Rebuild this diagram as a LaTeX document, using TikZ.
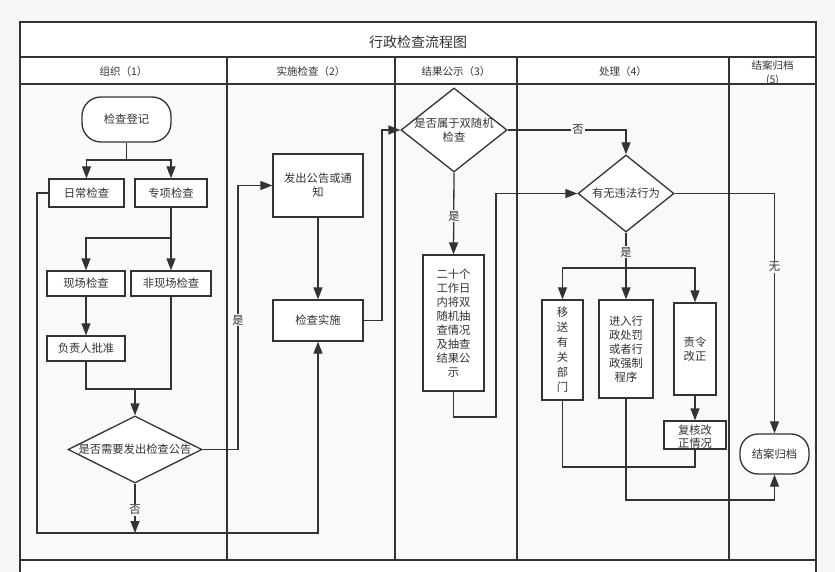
\documentclass[tikz,border=0pt]{standalone}
\usepackage{fontspec}
\setmainfont{Noto Sans CJK SC}
\usetikzlibrary{arrows.meta,shapes.geometric}
\definecolor{ink}{HTML}{333333}
\definecolor{pagebg}{HTML}{F7F7F7}
\definecolor{lanebg}{HTML}{F9F9F9}
\newcommand\ndfont{\fontsize{11.3}{14}\selectfont}
\newcommand\hdfont{\fontsize{10.5}{14}\selectfont}
\begin{document}
\begin{tikzpicture}[x=1pt,y=-1pt,
  box/.style={draw=ink, fill=white, line width=1.3pt, inner sep=0pt, align=center, font=\ndfont, text=ink},
  term/.style={box, rounded corners=19pt},
  dec/.style={draw=ink, fill=white, line width=1.3pt, diamond, inner sep=0pt},
  dectext/.style={align=center, font=\ndfont, text=ink, inner sep=0pt},
  arr/.style={draw=ink, line width=1.3pt, -{Triangle[length=12pt,width=9pt]}},
  link/.style={draw=ink, line width=1.3pt},
  lbl/.style={fill=lanebg, inner sep=1pt, text=ink, font=\ndfont},
  head/.style={text=ink, font=\hdfont, align=center, inner sep=0pt}
]
\useasboundingbox (0,0) rectangle (835,572);
% background and frame
\fill[pagebg] (0,0) rectangle (835,572);
\fill[white] (20,22) rectangle (816,84);
\fill[lanebg] (20,84) rectangle (816,560);
\fill[white] (20,560) rectangle (816,572);
\draw[link] (20,572) -- (20,22) -- (816,22) -- (816,572);
\draw[link] (20,57) -- (816,57);
\draw[link] (20,84) -- (816,84);
\draw[link] (20,560) -- (816,560);
\foreach \lx in {227,395,517,729} {\draw[link] (\lx,57) -- (\lx,560);}
% title and headers
\node[text=ink, font=\fontsize{14}{16}\selectfont] (title) at (418,42) {行政检查流程图};
\node[head] (h1) at (123.5,72) {组织（1）};
\node[head] (h2) at (311,72) {实施检查（2）};
\node[head] (h3) at (456,72) {结果公示（3）};
\node[head] (h4) at (623,72) {处理（4）};
\node[head] (h5) at (772.5,73.5) {结案归档\\(5)};
% lane 1
\node[term, minimum width=89pt, minimum height=45pt] (reg) at (126.5,119.5) {检查登记};
\node[box, minimum width=75pt, minimum height=28pt] (daily) at (86.5,193) {日常检查};
\node[box, minimum width=72pt, minimum height=28pt] (special) at (171,193) {专项检查};
\node[box, minimum width=78pt, minimum height=25pt] (onsite) at (86,283.5) {现场检查};
\node[box, minimum width=80pt, minimum height=25pt] (offsite) at (171,283.5) {非现场检查};
\node[box, minimum width=78pt, minimum height=25pt] (approve) at (86,348.5) {负责人批准};
\node[dec, minimum width=134pt, minimum height=67pt] (d1) at (135,449.5) {};
\node[dectext] (d1t) at (d1.center) {是否需要发出检查公告};
% lane 2
\node[box, minimum width=90pt, minimum height=63pt] (notice) at (318,185.5) {发出公告或通\\知};
\node[box, minimum width=90pt, minimum height=41pt] (impl) at (318,320.5) {检查实施};
% lane 3
\node[dec, minimum width=106pt, minimum height=84pt] (d2) at (454,130) {};
\node[dectext] (d2t) at (d2.center) {是否属于双随机\\检查};
\node[box, minimum width=61pt, minimum height=136pt] (pub) at (453.5,323) {二十个\\工作日\\内将双\\随机抽\\查情况\\及抽查\\结果公\\示};
% lane 4
\node[dec, minimum width=96pt, minimum height=77pt] (d3) at (626,193.5) {};
\node[dectext] (d3t) at (d3.center) {有无违法行为};
\node[box, minimum width=41pt, minimum height=100pt, font=\fontsize{11.3}{15}\selectfont] (transfer) at (562.5,350) {移\\送\\有\\关\\部\\门};
\node[box, minimum width=54pt, minimum height=98pt] (penalty) at (626,349) {进入行\\政处罚\\或者行\\政强制\\程序};
\node[box, minimum width=42pt, minimum height=92pt] (order) at (695,349) {责令\\改正};
\node[box, minimum width=62pt, minimum height=28pt] (review) at (695,435) {};
\node[dectext, font=\fontsize{11.3}{13}\selectfont] (reviewt) at (695,437) {复核改\\正情况};
% lane 5
\node[term, rounded corners=18pt, minimum width=69pt, minimum height=40pt] (archive) at (774.5,454) {结案归档};
% helper coordinates
\coordinate (split1) at (126.5,160);
\coordinate (split2) at (171,238);
\coordinate (join1) at (135,389);
\coordinate (no1) at (135,533);
\coordinate (split4) at (626,268);
\coordinate (join4) at (695,467);
% connectors
\draw[link] (reg.south) -- (split1);
\draw[arr] (split1) -| (daily.north);
\draw[arr] (split1) -| (special.north);
\draw[arr] (special.south) -- (offsite.north);
\draw[arr] (split2) -| (onsite.north);
\draw[arr] (onsite.south) -- (approve.north);
\draw[link] (approve.south) |- (join1);
\draw[link] (offsite.south) |- (join1);
\draw[arr] (join1) -- (d1.north);
\draw[arr] (d1.east) -| (238,320) |- (notice.west);
\draw[arr] (d1.south) -- (no1);
\draw[arr] (daily.west) -| (37,533) -| (impl.south);
\draw[arr] (notice.south) -- (impl.north);
\draw[arr] (impl.east) -| (382,200) |- (d2.west);
\draw[arr] (d2.east) -| (d3.north);
\draw[arr] (d2.south) -- (pub.north);
\draw[arr] (pub.south) |- (496,417) |- (d3.west);
\draw[arr] (d3.east) -| (archive.north);
\draw[arr] (d3.south) -- (penalty.north);
\draw[arr] (split4) -| (transfer.north);
\draw[arr] (split4) -| (order.north);
\draw[arr] (order.south) -- (review.north);
\draw[link] (transfer.south) |- (join4) -- (review.south);
\draw[arr] (penalty.south) |- (700,500) -| (archive.south);
% labels
\node[lbl] (l1) at (238,320) {是};
\node[lbl] (l2) at (135,510) {否};
\node[lbl] (l3) at (578,130) {否};
\node[lbl] (l4) at (454,216) {是};
\node[lbl] (l5) at (774.5,267) {无};
\node[lbl] (l6) at (626,252) {是};
\end{tikzpicture}
\end{document}
